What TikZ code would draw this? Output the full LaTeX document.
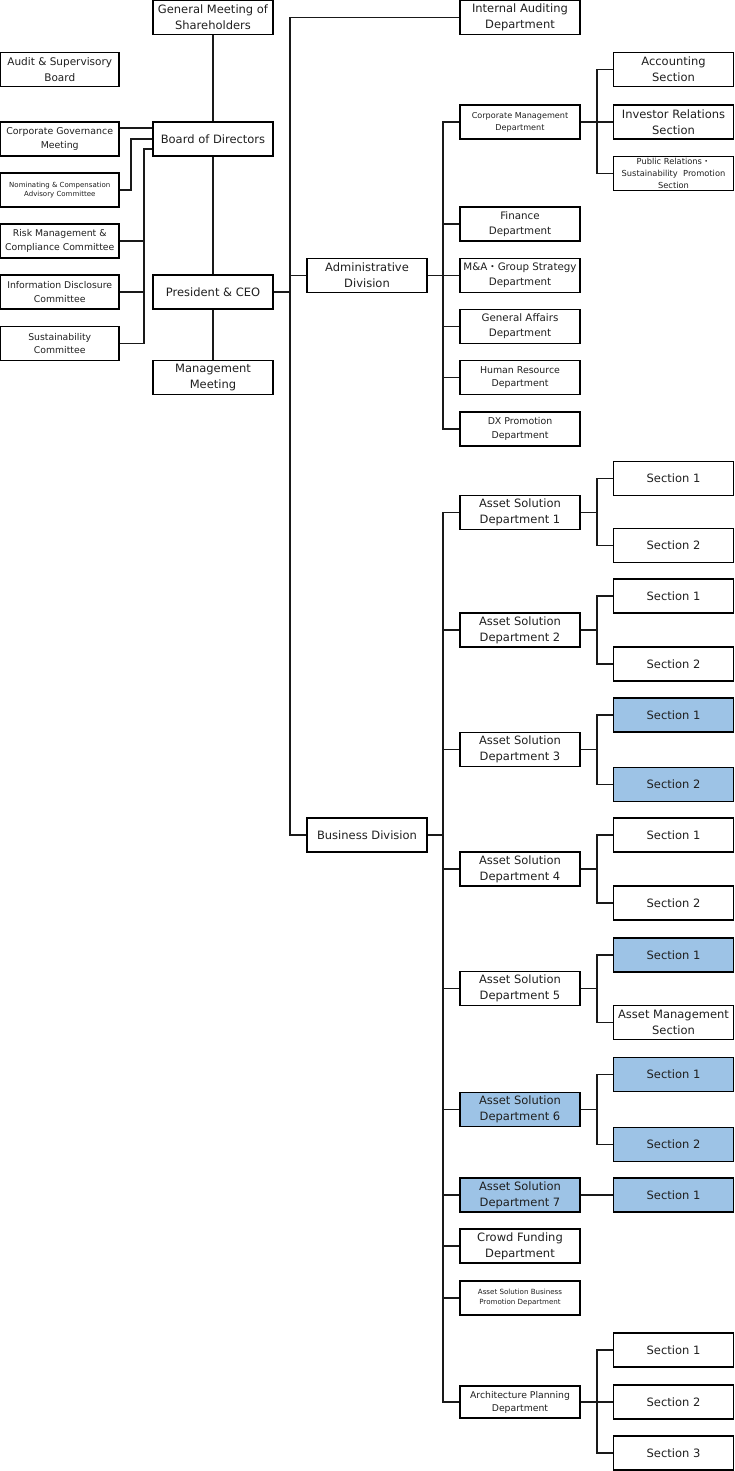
\documentclass[tikz,border=0pt]{standalone}
\usepackage{fontspec}
\setmainfont{DejaVu Sans}
\newfontfamily\cjk{Noto Sans CJK JP}
\definecolor{hlblue}{HTML}{9DC3E6}
\begin{document}
\begin{tikzpicture}[x=1pt,y=-1pt,
  box/.style={draw=black, line width=1.1pt, rectangle, inner sep=0pt,
    minimum width=120pt, minimum height=34pt, align=center, text=black!88,
    font=\fontsize{11.5}{16}\selectfont},
  lbox/.style={box, minimum width=118.5pt},
  thk/.style={line width=1.8pt},
  hl/.style={fill=hlblue},
  fmed/.style={font=\fontsize{10.3}{15}\selectfont},
  fcom/.style={font=\fontsize{9.3}{13.3}\selectfont},
  fsmall/.style={font=\fontsize{8.1}{12}\selectfont},
  ftiny/.style={font=\fontsize{7}{9.5}\selectfont},
  conn/.style={draw=black!90, line width=1.6pt}
]
\useasboundingbox (0,0) rectangle (735,1471);

% ---------- left column ----------
\node[box] (gms) at (213,17.5) {General Meeting of\\Shareholders};
\node[lbox, font=\fontsize{10.5}{16}\selectfont] (audit) at (59.75,69.5) {Audit \& Supervisory\\Board};
\node[lbox, font=\fontsize{9.4}{13.3}\selectfont] (cgm) at (59.75,139) {Corporate Governance\\Meeting};
\node[box, thk] (board) at (213,139) {Board of Directors};
\node[lbox, ftiny, font=\fontsize{7}{9}\selectfont] (nom) at (59.75,190) {Nominating \& Compensation\\Advisory Committee};
\node[lbox, fcom] (risk) at (59.75,241) {Risk Management \&\\Compliance Committee};
\node[lbox, fcom] (info) at (59.75,292) {Information Disclosure\\Committee};
\node[lbox, fcom] (sust) at (59.75,343.5) {Sustainability\\Committee};
\node[box] (pres) at (213,292) {President \& CEO};
\node[box] (mm) at (213,377.5) {Management\\Meeting};

% ---------- divisions ----------
\node[box] (iad) at (520,17.5) {Internal Auditing\\Department};
\node[box] (admin) at (367,275.5) {Administrative\\Division};
\node[box] (bus) at (367,835) {Business Division};

% ---------- administrative departments ----------
\node[box, fsmall] (corp) at (520,122) {Corporate Management\\Department};
\node[box, fmed] (fin) at (520,224) {Finance\\Department};
\node[box, fmed] (ma) at (520,275.5) {M\&A{\cjk ・}Group Strategy\\Department};
\node[box, fmed, thk] (ga) at (520,326.5) {General Affairs\\Department};
\node[box, font=\fontsize{9.4}{13}\selectfont, thk] (hr) at (520,377.5) {Human Resource\\Department};
\node[box, font=\fontsize{9.4}{13.5}\selectfont] (dx) at (520,429) {DX Promotion\\Department};

\node[box] (acc) at (673.5,69.5) {Accounting\\Section};
\node[box, thk] (ir) at (673.5,122) {Investor Relations\\Section};
\node[box, font=\fontsize{8.3}{12}\selectfont] (pr) at (673.5,173.5) {\raisebox{0pt}[0pt][0pt]{}Public Relations{\cjk ・}\\Sustainability\ \ Promotion\\Section};

% ---------- business departments ----------
\node[box] (d1) at (520,512.5) {Asset Solution\\Department 1};
\node[box] (d1a) at (673.5,478.5) {Section 1};
\node[box] (d1b) at (673.5,545.5) {Section 2};

\node[box] (d2) at (520,630) {Asset Solution\\Department 2};
\node[box] (d2a) at (673.5,596) {Section 1};
\node[box, thk] (d2b) at (673.5,664) {Section 2};

\node[box, thk] (d3) at (520,749.5) {Asset Solution\\Department 3};
\node[box, hl] (d3a) at (673.5,715) {Section 1};
\node[box, hl, thk] (d3b) at (673.5,784.5) {Section 2};

\node[box, thk] (d4) at (520,869) {Asset Solution\\Department 4};
\node[box] (d4a) at (673.5,835) {Section 1};
\node[box, thk] (d4b) at (673.5,903) {Section 2};

\node[box] (d5) at (520,988.5) {Asset Solution\\Department 5};
\node[box, hl, thk] (d5a) at (673.5,955) {Section 1};
\node[box] (d5b) at (673.5,1022.5) {Asset Management\\Section};

\node[box, hl, thk] (d6) at (520,1109.5) {Asset Solution\\Department 6};
\node[box, hl, thk] (d6a) at (673.5,1074.5) {Section 1};
\node[box, hl, thk] (d6b) at (673.5,1144.5) {Section 2};

\node[box, hl, thk] (d7) at (520,1195) {Asset Solution\\Department 7};
\node[box, hl, thk] (d7a) at (673.5,1195) {Section 1};

\node[box] (cf) at (520,1246) {Crowd Funding\\Department};
\node[box, font=\fontsize{7.1}{10}\selectfont] (asbp) at (520,1298) {Asset Solution Business\\Promotion Department};

\node[box, fcom, font=\fontsize{9.3}{13}\selectfont, minimum height=32pt] (arch) at (520,1402) {Architecture Planning\\Department};
\node[box] (ar1) at (673.5,1350) {Section 1};
\node[box] (ar2) at (673.5,1402) {Section 2};
\node[box, thk] (ar3) at (673.5,1453) {Section 3};

% ---------- trunk coordinates ----------
\coordinate (tk) at (290,0);
\coordinate (ak) at (443,0);
\coordinate (sk) at (597,0);
\coordinate (nk) at (131,0);
\coordinate (ck) at (144,0);

% ---------- connectors: left ----------
\draw[conn] (gms.south) -- (board.north);
\draw[conn] (board.south) -- (pres.north);
\draw[conn] (pres.south) -- (mm.north);
\draw[conn] ([yshift=11pt]cgm.east) -- ([yshift=11pt]board.west);
\draw[conn] (nom.east) -| (nk |- board.west) -- (board.west);
\draw[conn] ([yshift=-10pt]board.west) -| (ck |- sust.east) -- (sust.east);
\draw[conn] (risk.east) -- (ck |- risk.east);
\draw[conn] (info.east) -- (ck |- info.east);

% ---------- main trunk ----------
\draw[conn] (iad.west) -| (tk |- bus.west) -- (bus.west);
\draw[conn] (pres.east) -- (tk |- pres.east);
\draw[conn] (admin.west) -- (tk |- admin.west);

% ---------- administrative ----------
\draw[conn] (corp.west) -| (ak |- dx.west) -- (dx.west);
\draw[conn] (admin.east) -- (ma.west);
\foreach \n in {fin,ga,hr} \draw[conn] (\n.west) -- (ak |- \n.west);
\draw[conn] (acc.west) -| (sk |- pr.west) -- (pr.west);
\draw[conn] (corp.east) -- (ir.west);

% ---------- business ----------
\draw[conn] (d1.west) -| (ak |- arch.west) -- (arch.west);
\draw[conn] (bus.east) -- (ak |- bus.east);
\foreach \n in {d2,d3,d4,d5,d6,d7,cf,asbp} \draw[conn] (\n.west) -- (ak |- \n.west);
\foreach \n in {d1,d2,d3,d4,d5,d6} {
  \draw[conn] (\n a.west) -| (sk |- \n b.west) -- (\n b.west);
  \draw[conn] (\n.east) -- (sk |- \n.east);
}
\draw[conn] (d7.east) -- (d7a.west);
\draw[conn] (ar1.west) -| (sk |- ar3.west) -- (ar3.west);
\draw[conn] (arch.east) -- (ar2.west);
\end{tikzpicture}
\end{document}
